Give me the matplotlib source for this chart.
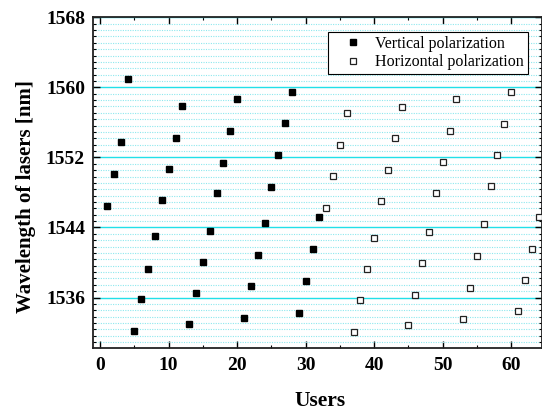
import matplotlib
matplotlib.use("Agg")
import matplotlib.pyplot as plt
from matplotlib.ticker import MultipleLocator
import numpy as np

plt.rcParams['font.family'] = ['Liberation Serif', 'DejaVu Serif']

users_vertical = list(range(1, 33))
wavelength_vertical = [
    1546.5, 1550.1, 1553.75, 1560.9, 1532.2, 1535.8, 1539.3, 1543.0,
    1547.1, 1550.7, 1554.24, 1557.9, 1532.95, 1536.46, 1540.07, 1543.61,
    1547.89, 1551.4, 1554.97, 1558.63, 1533.67, 1537.26, 1540.87, 1544.53,
    1548.64, 1552.26, 1555.89, 1559.43, 1534.21, 1537.94, 1541.49, 1545.14,
]
users_horizontal = list(range(33, 65))
wavelength_horizontal = [
    1546.17, 1549.86, 1553.4, 1557.03, 1532.11, 1535.66, 1539.2, 1542.78,
    1547.0, 1550.55, 1554.24, 1557.75, 1532.83, 1536.34, 1539.92, 1543.5,
    1547.89, 1551.43, 1554.97, 1558.63, 1533.52, 1537.14, 1540.72, 1544.34,
    1548.69, 1552.23, 1555.84, 1559.43, 1534.43, 1537.98, 1541.49, 1545.14,
]
x_ticks = [0, 10, 20, 30, 40, 50, 60]
y_ticks = [1536, 1544, 1552, 1560, 1568]

fig = plt.figure(figsize=(5.42, 4.11), dpi=100)
ax = fig.add_axes([93.3/542, 1-348.3/411, 1-93.3/542, (348.3-17.3)/411])

ax.set_xlim(-1, 64.5)
ax.set_ylim(1530.2, 1568)

ax.set_yticks(y_ticks)
ax.yaxis.set_minor_locator(MultipleLocator(8/11))
ax.set_xticks(x_ticks)
ax.xaxis.set_minor_locator(MultipleLocator(5))

ax.grid(True, axis='y', which='major', color='#22e0e8', lw=1.0, zorder=0)
ax.grid(True, axis='y', which='minor', color='#8ee8ee', lw=0.8, ls=(0, (1, 1.2)), zorder=0)
ax.set_axisbelow(True)

ax.plot(users_vertical, wavelength_vertical, ls='none', marker='s', ms=5,
        mfc='black', mec='black', label='Vertical polarization', zorder=3)
ax.plot(users_horizontal, wavelength_horizontal, ls='none', marker='s', ms=5,
        mfc='white', mec='#222222', mew=0.9, label='Horizontal polarization', zorder=3)

ax.tick_params(which='both', direction='in', top=True, right=True, colors='black')
ax.tick_params(which='major', length=5, width=1.0, labelsize=14)
ax.tick_params(axis='x', which='major', pad=6.5)
ax.tick_params(axis='y', which='major', pad=6)
ax.tick_params(which='minor', length=2.5, width=0.8)
for lab in ax.get_xticklabels() + ax.get_yticklabels():
    lab.set_fontweight('bold')

for s in ax.spines.values():
    s.set_linewidth(1.3)
    s.set_color('#222222')

ax.set_xlabel('Users', fontsize=15.5, fontweight='bold')
ax.xaxis.set_label_coords(0.5 + (320 - 93.3 - 448.7/2) / 448.7, (348.3 - 406) / 331)
ax.xaxis.label.set_va('baseline')

ax.set_ylabel('Wavelength of lasers [nm]', fontsize=15, fontweight='bold')
ax.yaxis.set_label_coords((26.5 - 93.3) / 448.7, (348.3 - 197) / 331)
ax.yaxis.label.set_va('center')
ax.yaxis.label.set_ha('center')

leg = ax.legend(loc='upper right', bbox_to_anchor=(0.969, 0.956), fontsize=11.5,
                frameon=True, fancybox=False, edgecolor='black', framealpha=1,
                borderaxespad=0, handletextpad=0.1, borderpad=0.25,
                labelspacing=0.15, handlelength=2.6)
leg.get_frame().set_linewidth(0.8)

fig.savefig('out.png', dpi=100)
